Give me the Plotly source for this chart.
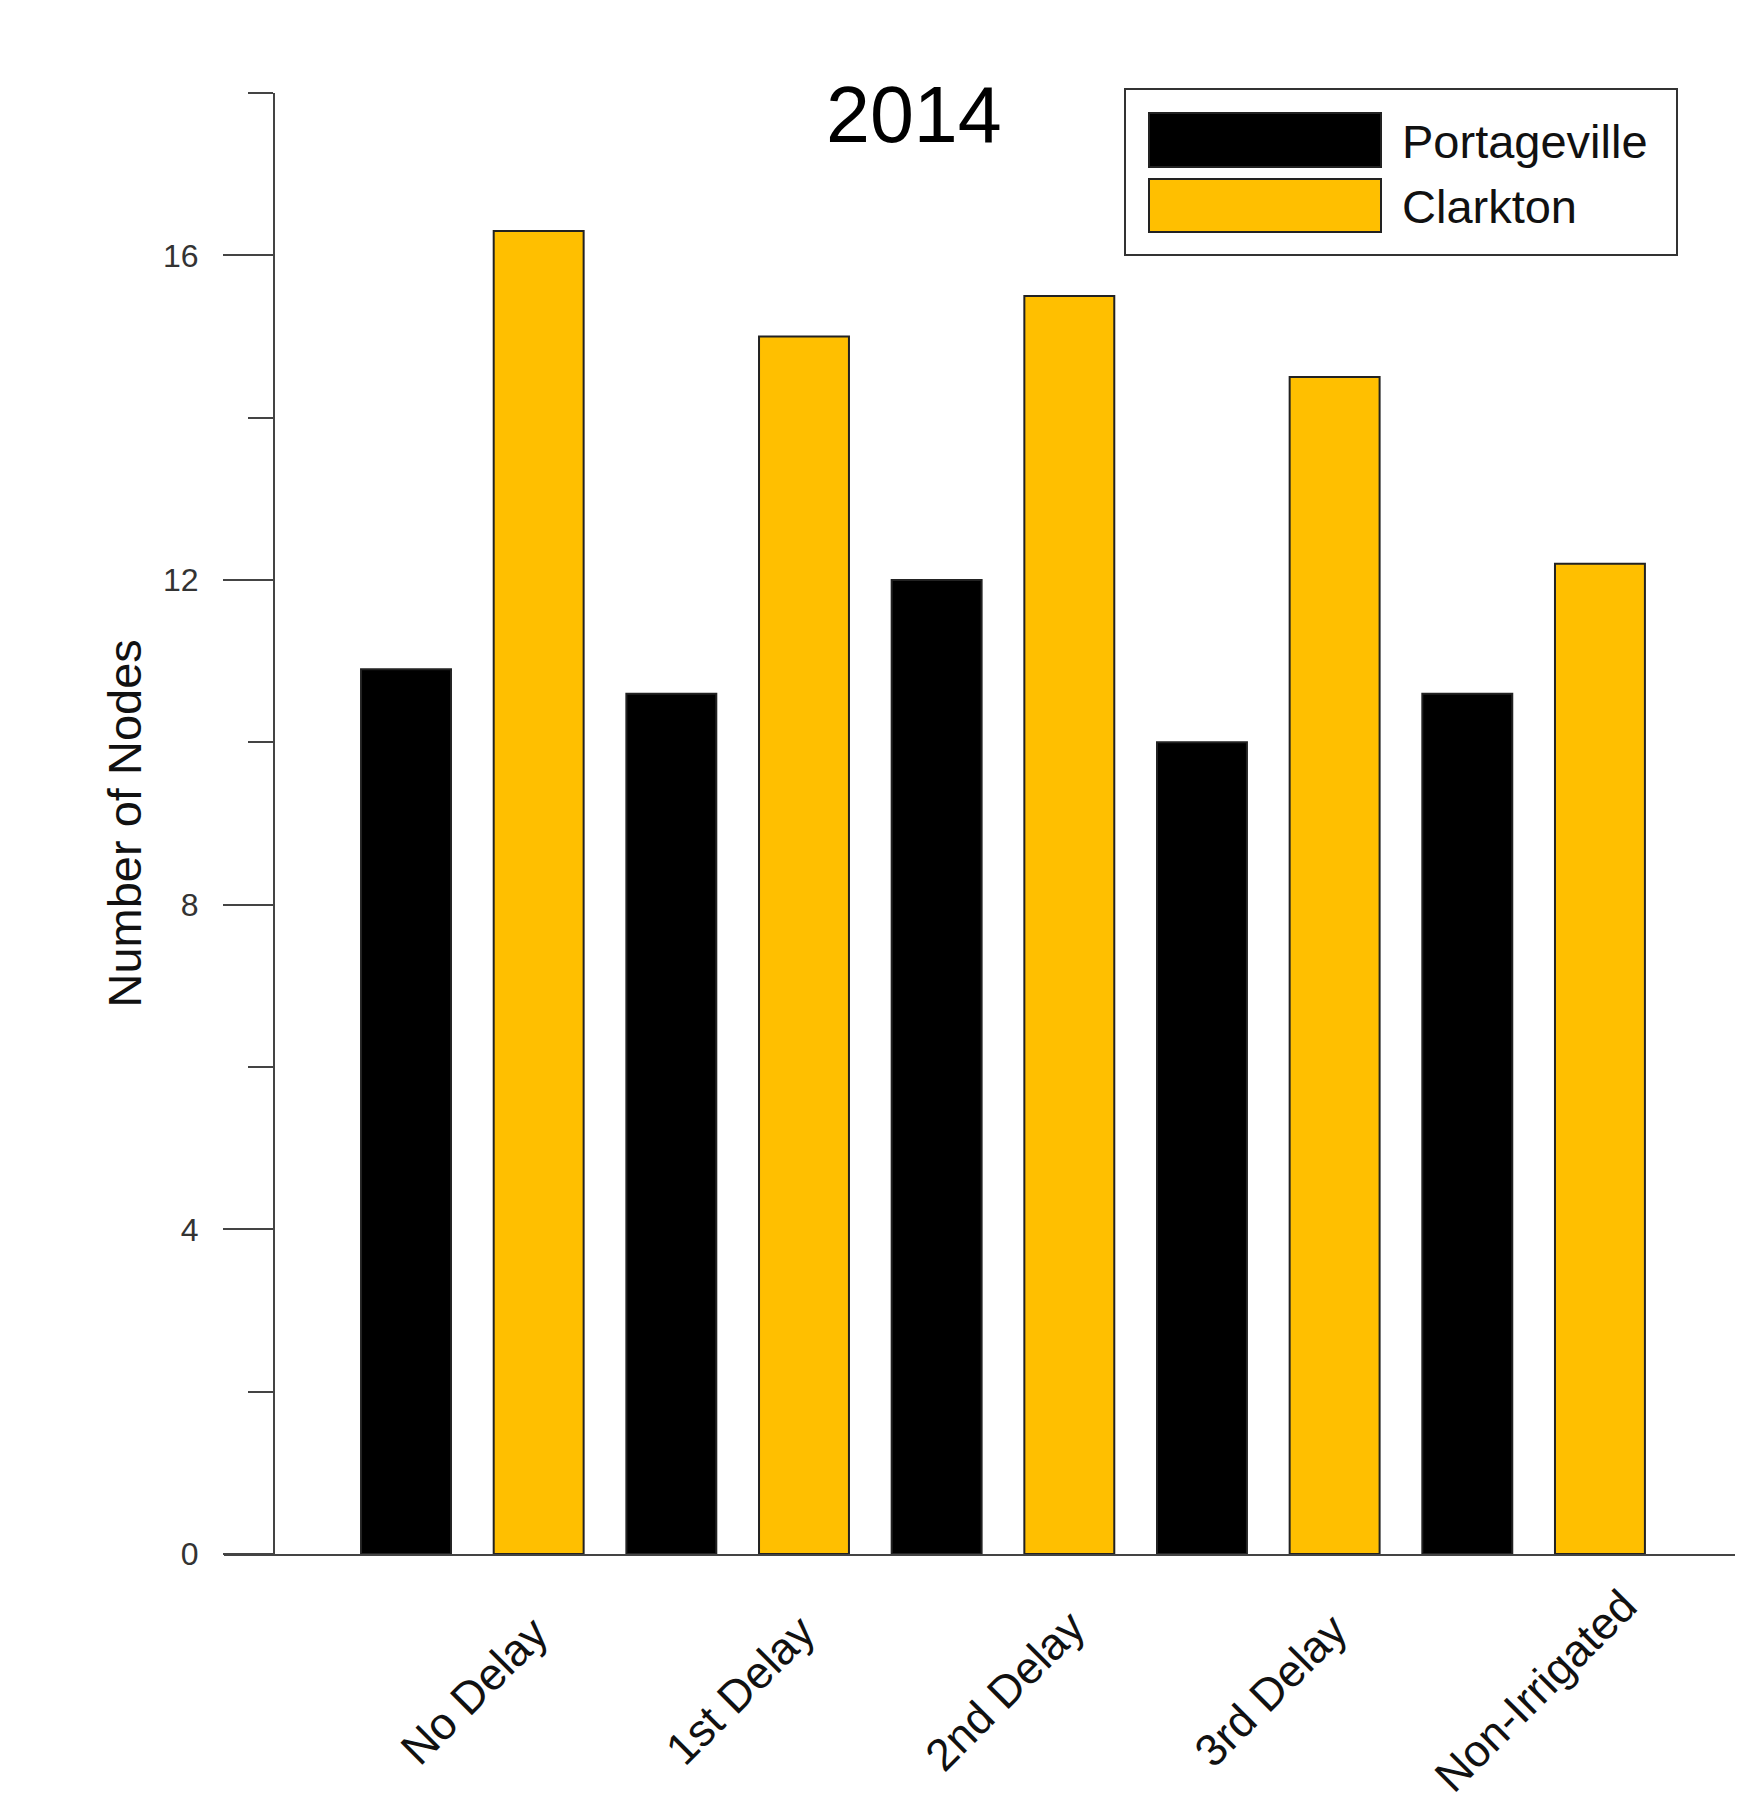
import plotly.graph_objects as go

# Node counts per irrigation treatment, 2014
treatments = ["No Delay", "1st Delay", "2nd Delay", "3rd Delay", "Non-Irrigated"]
portageville = [10.9, 10.6, 12.0, 10.0, 10.6]
clarkton = [16.3, 15.0, 15.5, 14.5, 12.2]
series_names = ["Portageville", "Clarkton"]
series_colors = ["#000000", "#FFBF00"]
y_major_ticks = [0, 4, 8, 12, 16]
y_minor_ticks = [2, 6, 10, 14, 18]

W, H = 1755, 1809
ML, MR, MT, MB = 224, 20, 93, 255
PW, PH = W - ML - MR, H - MT - MB

FONT = "Liberation Sans, Arial, sans-serif"
AXIS_GREY = "#444444"


def px_x(px):
    return (px - ML) / PW


def px_y(py):
    return (H - MB - py) / PH


fig = go.Figure()
for name, vals, col in zip(series_names, [portageville, clarkton], series_colors):
    fig.add_trace(go.Bar(
        x=treatments, y=vals, name=name,
        marker=dict(color=col, line=dict(color="#222222", width=2)),
        showlegend=False,
    ))

# Rotated category labels, centred under each group
annotations = []
for t in treatments:
    annotations.append(dict(
        x=t, y=0, xref="x", yref="y", text=t, showarrow=False,
        textangle=-45, xanchor="center", yanchor="middle",
        xshift=2, yshift=-136,
        font=dict(family=FONT, size=45, color="#111111"),
    ))

# Chart title
annotations.append(dict(
    x=px_x(914), y=px_y(114), xref="paper", yref="paper", text="2014",
    showarrow=False, xanchor="center", yanchor="middle",
    font=dict(family=FONT, size=79, color="#000000"),
))

# Y-axis title
annotations.append(dict(
    x=px_x(124), y=0.5, xref="paper", yref="paper", text="Number of Nodes",
    showarrow=False, textangle=-90, xanchor="center", yanchor="middle",
    font=dict(family=FONT, size=47, color="#111111"),
))

# Legend drawn as a framed box with wide swatches
shapes = [
    dict(type="rect", xref="paper", yref="paper",
         x0=px_x(1125), x1=px_x(1677), y0=px_y(255), y1=px_y(89),
         line=dict(color="#333333", width=2), fillcolor="white", layer="above"),
]
swatch_rows = [(113, 167), (179, 232)]
for (top, bot), name, col in zip(swatch_rows, series_names, series_colors):
    shapes.append(dict(type="rect", xref="paper", yref="paper",
                       x0=px_x(1149), x1=px_x(1381), y0=px_y(bot), y1=px_y(top),
                       line=dict(color="#222222", width=2), fillcolor=col, layer="above"))
    annotations.append(dict(
        x=px_x(1400), y=px_y((top + bot) / 2 + 1), xref="paper", yref="paper",
        text=name, showarrow=False, xanchor="left", yanchor="middle",
        font=dict(family=FONT, size=47, color="#111111"),
    ))

fig.update_layout(
    width=W, height=H,
    margin=dict(l=ML, r=MR, t=MT, b=MB, pad=0),
    paper_bgcolor="white", plot_bgcolor="white",
    barmode="group", bargap=0.0, bargroupgap=0.322,
    annotations=annotations, shapes=shapes,
    showlegend=False,
    xaxis=dict(
        type="category", range=[-0.936, 4.759],
        showticklabels=False, ticks="", showgrid=False, zeroline=False,
        showline=True, linecolor=AXIS_GREY, linewidth=2,
    ),
    yaxis=dict(
        range=[0, 18], anchor="free", position=px_x(274),
        tickmode="array", tickvals=y_major_ticks,
        ticktext=[str(v) for v in y_major_ticks],
        ticks="outside", ticklen=50, tickwidth=2, tickcolor=AXIS_GREY,
        ticklabelstandoff=18,
        tickfont=dict(family=FONT, size=32, color="#333333"),
        minor=dict(tickmode="array", tickvals=y_minor_ticks, ticks="outside",
                   ticklen=25, tickwidth=2, tickcolor=AXIS_GREY, showgrid=False),
        showgrid=False, zeroline=False,
        showline=True, linecolor=AXIS_GREY, linewidth=2,
    ),
)

fig.write_html("out.html")
